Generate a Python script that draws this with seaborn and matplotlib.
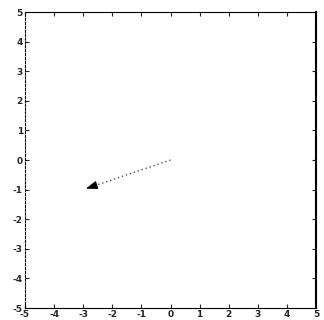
import matplotlib
matplotlib.use("Agg")
import matplotlib.pyplot as plt
import seaborn as sns
import pandas as pd

sns.set_style("white")
plt.rcParams['font.family'] = ['DejaVu Sans']

# Data
vec_x = [0, -3]
vec_y = [0, -1]
ticks = [-5, -4, -3, -2, -1, 0, 1, 2, 3, 4, 5]

df = pd.DataFrame({"x": vec_x, "y": vec_y})

fig = plt.figure(figsize=(3.24, 3.20), dpi=100)
ax = fig.add_axes([25/324, 12/320, 291/324, 296/320])

# shaft (dotted) stops short of the head
shaft = pd.DataFrame({"x": [df.x[0], df.x[0] + 0.88*(df.x[1]-df.x[0])],
                      "y": [df.y[0], df.y[0] + 0.88*(df.y[1]-df.y[0])]})
sns.lineplot(data=shaft, x="x", y="y", ax=ax, color="#555555",
             linestyle=(0, (1, 2)), linewidth=1.0, sort=False)
ax.annotate("", xy=(df.x[1], df.y[1]), xytext=(shaft.x[1], shaft.y[1]),
            arrowprops=dict(arrowstyle="-|>,head_length=0.7,head_width=0.25",
                            color="black", lw=0.8))

ax.set_xlim(-5, 5)
ax.set_ylim(-5, 5)
ax.set_xticks(ticks)
ax.set_yticks(ticks)
ax.set_xticklabels([str(t) for t in ticks], fontsize=6.5, fontweight="bold")
ax.set_yticklabels([str(t) for t in ticks], fontsize=6.5, fontweight="bold")
ax.set_xlabel("")
ax.set_ylabel("")
ax.tick_params(direction="in", length=3, width=0.8, top=True, right=True,
               bottom=True, left=True, pad=1.5)
for s in ax.spines.values():
    s.set_visible(True)
    s.set_color("black")
    s.set_linewidth(0.8)
ax.spines["left"].set_linestyle((0, (2, 1.5)))
ax.spines["right"].set_linewidth(1.5)

fig.savefig("out.png", dpi=100)
